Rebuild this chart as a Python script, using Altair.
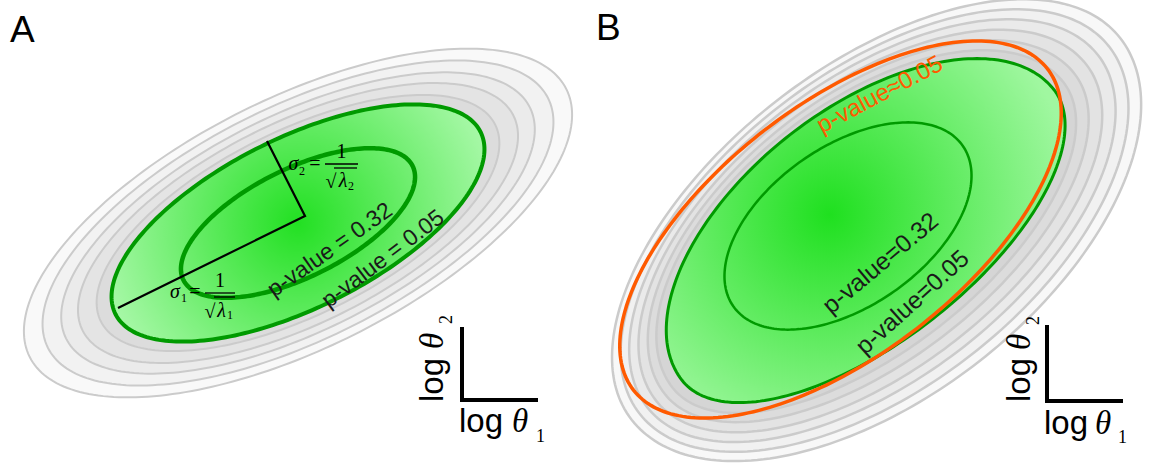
import math
import altair as alt
import pandas as pd

W, H = 1153, 469
SANS = "Liberation Sans"
SERIF = "Liberation Serif"

# ---------------- Panel A: Gaussian (elliptical) confidence regions ----------------
A_CENTER = [298.0, 223.0]
A_TILT = 26.5                       # degrees, major axis rising to the right
A_P05_AXES = [204.0, 85.0]          # semi-axes of the p = 0.05 contour
A_P32_AXES = [128.0, 54.0]          # semi-axes of the p = 0.32 contour
A_GRAY_SCALE = [1.47, 1.37, 1.27, 1.18, 1.08]
A_GRAY_FILL = ["#f9f9f9", "#f2f2f2", "#ebebeb", "#e4e4e4", "#dcdcdc"]

# principal axes drawn as a polyline: end of sigma_1, crossing point, end of sigma_2
A_SIGMA_X = [118, 305, 267]
A_SIGMA_Y = [308, 216, 141]

# ---------------- Panel B: non-Gaussian (profile) confidence regions ----------------
# contours are described in a frame tilted by B_TILT around B_ORIGIN:
# shift along the long axis, half-length, and the two half-widths (upper-left / lower-right side)
B_ORIGIN = [868.0, 235.0]
B_TILT = 38.0
B_GRAY_SHIFT = [10, 8, 6, 4, 2, 0]
B_GRAY_A = [310, 298, 286, 273, 260, 248]
B_GRAY_BUP = [162, 156, 150, 144, 138, 132]
B_GRAY_BLOW = [168, 158, 147, 137, 126, 116]
B_GRAY_FILL = ["#f8f8f8", "#f1f1f1", "#eaeaea", "#e3e3e3", "#dcdcdc", "#d5d5d5"]

B_P05 = dict(shift=0, a=236, b_up=127, b_low=106)
B_P32 = dict(cx=848, cy=226, a=140, b=80, tilt=35.0)
B_GAUSS = dict(cx=840.5, cy=229.5, a=262, b=125, tilt=37.8)

GREEN_LINE = "#009a00"
ORANGE = "#ff5a00"
GRAY_LINE = "#cbcbcb"


def oval(cx, cy, tilt, a, b_up, b_low=None, shift=0.0, n=240):
    """Closed ring in screen pixels: long axis rising at `tilt` degrees,
    half-width b_up on the upper-left side and b_low on the lower-right side."""
    if b_low is None:
        b_low = b_up
    th = math.radians(tilt)
    ux, uy = math.cos(th), -math.sin(th)
    vx, vy = -math.sin(th), -math.cos(th)
    ring = []
    for i in range(n + 1):
        t = 2 * math.pi * i / n
        u = shift + a * math.cos(t)
        s = math.sin(t)
        v = (b_up if s > 0 else b_low) * s
        ring.append([cx + u * ux + v * vx, cy + u * uy + v * vy])
    return ring


def polygons(rings, fills=None):
    feats = []
    for i, r in enumerate(rings):
        props = {"fill": fills[i] if fills else "none"}
        feats.append({"type": "Feature", "properties": props,
                      "geometry": {"type": "Polygon", "coordinates": [r]}})
    return alt.Data(values=feats)


def polylines(paths):
    feats = [{"type": "Feature", "properties": {},
              "geometry": {"type": "LineString", "coordinates": p}} for p in paths]
    return alt.Data(values=feats)


PROJ = dict(type="identity", scale=1, translate=[0, 0])


def shape_layer(data, **mark):
    return alt.Chart(data).mark_geoshape(**mark).project(**PROJ)


def text_layer(xs, ys, labels, **mark):
    df = pd.DataFrame({"x": xs, "y": ys, "label": labels})
    return (alt.Chart(df).mark_text(**mark)
            .encode(longitude="x:Q", latitude="y:Q", text="label:N")
            .project(**PROJ))


def radial(fx, fy, r, inner, outer):
    return {"gradient": "radial", "x1": fx, "y1": fy, "r1": 0,
            "x2": fx, "y2": fy, "r2": r,
            "stops": [{"offset": 0, "color": inner}, {"offset": 1, "color": outer}]}


layers = []

# ---- panel A shapes
cxA, cyA = A_CENTER
gray_rings_A = [oval(cxA, cyA, A_TILT, A_P05_AXES[0] * s, A_P05_AXES[1] * s) for s in A_GRAY_SCALE]
layers.append(shape_layer(polygons(gray_rings_A, A_GRAY_FILL), stroke=GRAY_LINE, strokeWidth=2)
              .encode(fill=alt.Fill("properties.fill:N", scale=None)))
layers.append(shape_layer(polygons([oval(cxA, cyA, A_TILT, *A_P05_AXES)]),
                          fill=radial(0.5, 0.5, 0.55, "#22e022", "#a8f8a8"),
                          stroke=GREEN_LINE, strokeWidth=4))
layers.append(shape_layer(polygons([oval(cxA, cyA, A_TILT, *A_P32_AXES)]),
                          filled=False, stroke=GREEN_LINE, strokeWidth=4.5))
layers.append(shape_layer(polylines([[[x, y] for x, y in zip(A_SIGMA_X, A_SIGMA_Y)]]),
                          filled=False, stroke="black", strokeWidth=2.2))

# ---- panel B shapes
ox, oy = B_ORIGIN
gray_rings_B = [oval(ox, oy, B_TILT, a, bu, bl, sh)
                for sh, a, bu, bl in zip(B_GRAY_SHIFT, B_GRAY_A, B_GRAY_BUP, B_GRAY_BLOW)]
layers.append(shape_layer(polygons(gray_rings_B, B_GRAY_FILL), stroke=GRAY_LINE, strokeWidth=2.5)
              .encode(fill=alt.Fill("properties.fill:N", scale=None)))
layers.append(shape_layer(polygons([oval(ox, oy, B_TILT, **B_P05)]),
                          fill=radial(0.41, 0.46, 0.62, "#1fe01f", "#a0f7a0"),
                          stroke=GREEN_LINE, strokeWidth=3))
layers.append(shape_layer(polygons([oval(B_P32["cx"], B_P32["cy"], B_P32["tilt"], B_P32["a"], B_P32["b"])]),
                          filled=False, stroke=GREEN_LINE, strokeWidth=2.5))
layers.append(shape_layer(polygons([oval(B_GAUSS["cx"], B_GAUSS["cy"], B_GAUSS["tilt"],
                                         B_GAUSS["a"], B_GAUSS["b"])]),
                          filled=False, stroke=ORANGE, strokeWidth=3.5))

# ---- axis corner glyphs (log theta_2 up, log theta_1 right)
corner_paths = [[[462, 327], [462, 400], [538, 400]],
                [[1047, 325], [1047, 401], [1123, 401]]]
layers.append(shape_layer(polylines(corner_paths), filled=False, stroke="black",
                          strokeWidth=4, strokeJoin="miter", strokeCap="butt"))

# fraction bars and radical overlines of the sigma labels
frac_paths = [[[205, 293], [235, 293]], [[214, 297], [235, 297]],
              [[325, 164], [358, 164]], [[334, 168], [357, 168]]]
layers.append(shape_layer(polylines(frac_paths), filled=False, stroke="black", strokeWidth=1.3))

# ---- texts
layers.append(text_layer([10, 596], [42, 40], ["A", "B"], font=SANS, fontSize=37,
                         align="left", baseline="alphabetic", color="black"))

layers.append(text_layer([330], [250], ["p-value = 0.32"], font=SANS, fontSize=23,
                         angle=325, color="#1a1a1a"))
layers.append(text_layer([383], [259], ["p-value = 0.05"], font=SANS, fontSize=23,
                         angle=323, color="#1a1a1a"))
layers.append(text_layer([881], [264], ["p-value=0.32"], font=SANS, fontSize=24.5,
                         angle=320, color="#1a1a1a"))
layers.append(text_layer([913], [303], ["p-value=0.05"], font=SANS, fontSize=24.5,
                         angle=318, color="#1a1a1a"))
layers.append(text_layer([880], [95], ["p-value\u22480.05"], font=SANS, fontSize=24,
                         angle=332, color=ORANGE))

# sigma labels
layers.append(text_layer([175, 293.5, 221.5, 343], [298, 170, 317, 187],
                         ["\u03c3", "\u03c3", "\u03bb", "\u03bb"], font=SERIF, fontSize=20,
                         fontStyle="italic", align="center", baseline="alphabetic", color="black"))
layers.append(text_layer([195, 220, 210, 315, 341.5, 331], [298, 287, 318, 170, 158, 188],
                         ["=", "1", "\u221a", "=", "1", "\u221a"], font=SERIF, fontSize=20,
                         align="center", baseline="alphabetic", color="black"))
layers.append(text_layer([184, 230, 302, 351], [302, 319, 175, 190],
                         ["1", "1", "2", "2"], font=SERIF, fontSize=12,
                         align="center", baseline="alphabetic", color="black"))

# axis labels: horizontal "log theta_1"
layers.append(text_layer([459, 1044], [432, 434], ["log", "log"], font=SANS, fontSize=33,
                         align="left", baseline="alphabetic", color="black"))
layers.append(text_layer([512, 1095], [432, 434], ["\u03b8", "\u03b8"], font=SERIF, fontSize=33,
                         fontStyle="italic", align="left", baseline="alphabetic", color="black"))
layers.append(text_layer([536, 1118], [442, 443], ["1", "1"], font=SERIF, fontSize=18,
                         align="left", baseline="alphabetic", color="black"))
# rotated "log theta_2"
layers.append(text_layer([443, 1030], [402, 402], ["log", "log"], font=SANS, fontSize=33,
                         angle=270, align="left", baseline="alphabetic", color="black"))
layers.append(text_layer([443, 1030], [349, 350], ["\u03b8", "\u03b8"], font=SERIF, fontSize=33,
                         angle=270, fontStyle="italic", align="left", baseline="alphabetic",
                         color="black"))
layers.append(text_layer([452, 1039], [324, 325], ["2", "2"], font=SERIF, fontSize=18,
                         angle=270, align="left", baseline="alphabetic", color="black"))

chart = (alt.layer(*layers)
         .properties(width=W, height=H, padding=0, autosize="none")
         .configure_view(stroke=None))

chart.save("out.html", embed_options={"renderer": "svg", "actions": False})
